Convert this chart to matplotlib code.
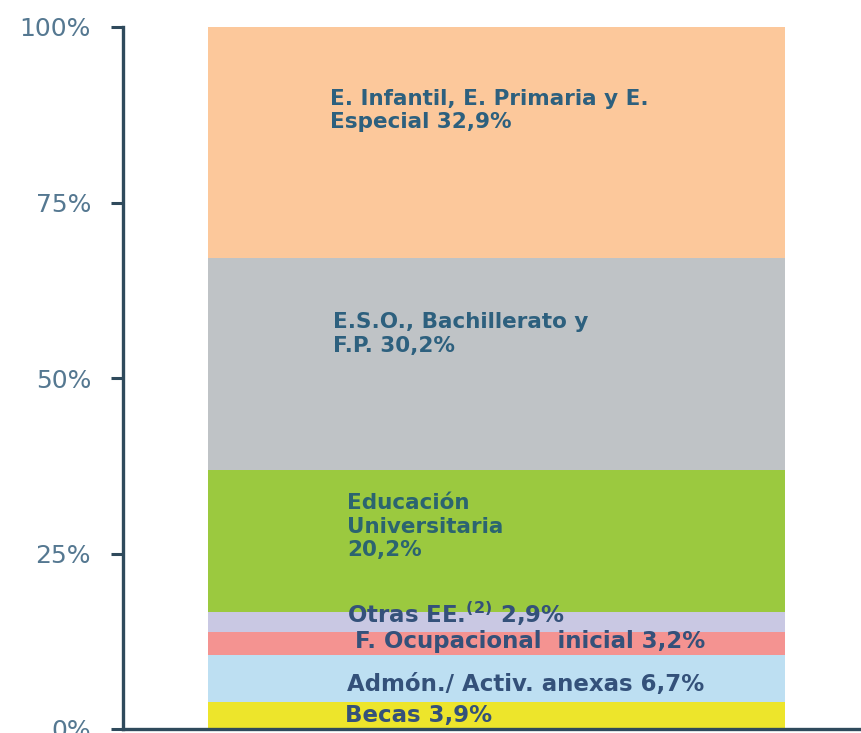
import matplotlib
matplotlib.use("Agg")
import matplotlib.pyplot as plt
import matplotlib.transforms as mtransforms

# ---- data (bottom to top) ----
categories = [
    "Becas 3,9%",
    "Admón./ Activ. anexas 6,7%",
    "F. Ocupacional  inicial 3,2%",
    "Otras EE.$^{\\mathbf{(2)}}$ 2,9%",
    "Educación\nUniversitaria\n20,2%",
    "E.S.O., Bachillerato y\nF.P. 30,2%",
    "E. Infantil, E. Primaria y E.\nEspecial 32,9%",
]
values = [3.9, 6.7, 3.2, 2.9, 20.2, 30.2, 32.9]
tick_values = [0, 25, 50, 75, 100]
tick_labels = ["0%", "25%", "50%", "75%", "100%"]

# ---- styles / positions ----
colors = ["#EDE52B", "#BDDFF2", "#F49391", "#C9C8E3", "#9BC93F", "#BFC3C6", "#FCC89B"]
# label anchor: (x in axes fraction, y in data %)
label_pos = [(0.3008, 1.9), (0.3035, 6.3), (0.3144, 12.5), (0.3035, 16.4),
             (0.3035, 28.8), (0.2846, 56.3), (0.2805, 88.1)]
label_size = [16.5, 16.5, 16.5, 16.5, 15.5, 15.5, 15.5]
label_color = ["#34517A", "#34517A", "#34517A", "#34517A", "#2B6470", "#2D607E", "#2D607E"]

W, H = 861, 733
fig = plt.figure(figsize=(W / 100, H / 100), dpi=100)
ax = fig.add_axes([123 / W, (H - 729) / H, (W - 123) / W, (729 - 27) / H])

bottom = 0.0
for v, c in zip(values, colors):
    ax.bar(0, v, width=1.0, bottom=bottom, color=c, edgecolor="none", zorder=2)
    bottom += v

ax.set_xlim(-0.6473, 0.6317)
ax.set_ylim(0, 100)

trans = mtransforms.blended_transform_factory(ax.transAxes, ax.transData)
for lab, (lx, ly), fs, col in zip(categories, label_pos, label_size, label_color):
    ax.text(lx, ly, lab, transform=trans, ha="left", va="center",
            fontsize=fs, fontweight="bold", family="DejaVu Sans",
            color=col, linespacing=1.22, zorder=3)

spine_col = "#2F4A5C"
for s in ["top", "right"]:
    ax.spines[s].set_visible(False)
ax.spines["left"].set_color(spine_col)
ax.spines["left"].set_linewidth(2.4)
ax.spines["bottom"].set_color(spine_col)
ax.spines["bottom"].set_linewidth(2.4)
ax.spines["bottom"].set_zorder(4)

ax.set_xticks([])
ax.set_yticks(tick_values)
ax.set_yticklabels(tick_labels, fontsize=18, color="#557891", family="DejaVu Sans")
ax.tick_params(axis="y", direction="out", length=9, width=2.2, color=spine_col, pad=14)

fig.savefig("out.png", dpi=100)
